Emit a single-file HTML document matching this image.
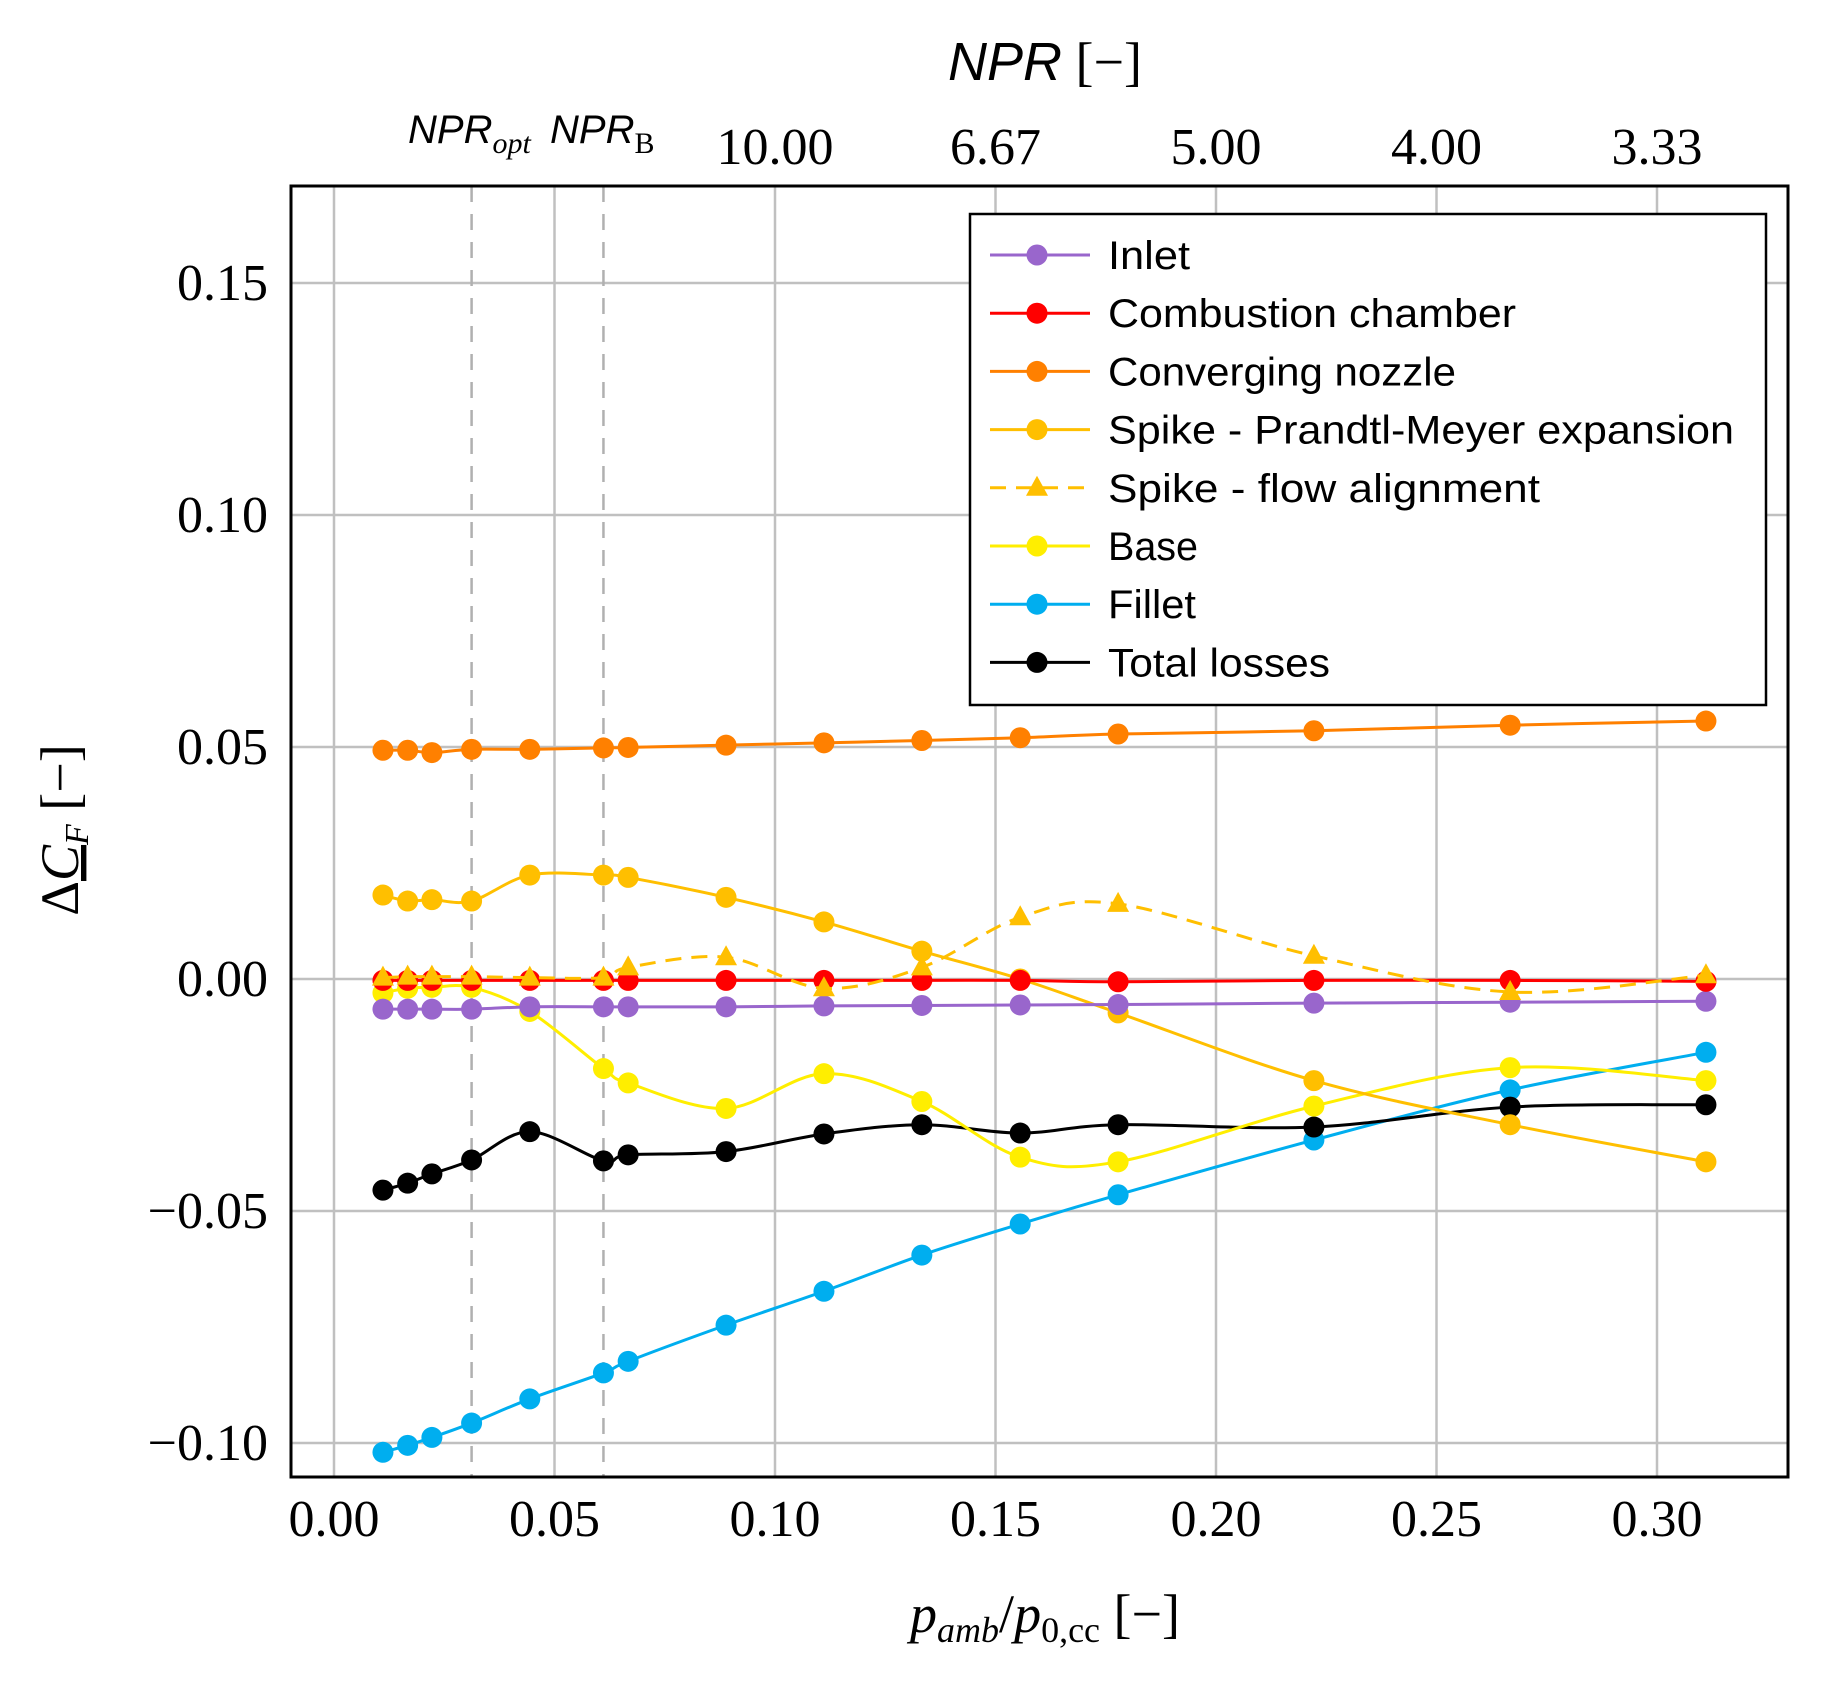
<!DOCTYPE html>
<html><head><meta charset="utf-8"><style>
html,body{margin:0;padding:0;background:#fff}
svg{display:block}
.tk{font-family:"Liberation Serif",serif;font-size:52px;fill:#000}
.lg{font-family:"Liberation Sans",sans-serif;font-size:40px;fill:#000}
</style></head><body>
<svg id="chart" width="1831" height="1682" viewBox="0 0 1831 1682" xmlns="http://www.w3.org/2000/svg">
<g id="grid"></g>
<g id="plot"></g>
<rect x="291" y="186" width="1497" height="1291" fill="none" stroke="#000" stroke-width="3"/>
<g id="ticks"></g>
<text x="408" y="143" font-family="Liberation Sans,sans-serif" font-style="italic" font-size="40">NPR<tspan font-family="Liberation Serif,serif" font-size="30" dy="10">opt</tspan></text>
<text x="550" y="143" font-family="Liberation Sans,sans-serif" font-style="italic" font-size="40">NPR<tspan font-family="Liberation Serif,serif" font-style="normal" font-size="30" dy="10">B</tspan></text>
<text x="1045" y="80" text-anchor="middle" font-size="54"><tspan font-family="Liberation Sans,sans-serif" font-style="italic">NPR</tspan><tspan font-family="Liberation Serif,serif"> [−]</tspan></text>
<text x="1045" y="1632" text-anchor="middle" font-family="Liberation Serif,serif" font-size="54"><tspan font-style="italic">p</tspan><tspan font-style="italic" font-size="36" dy="10">amb</tspan><tspan dy="-10">/</tspan><tspan font-style="italic">p</tspan><tspan font-size="36" dy="10">0,cc</tspan><tspan dy="-10">  [−]</tspan></text>
<text transform="translate(78,830) rotate(-90)" text-anchor="middle" font-family="Liberation Serif,serif" font-size="54">Δ<tspan font-style="italic" text-decoration="underline">C</tspan><tspan font-style="italic" font-size="34" dy="10">F</tspan><tspan dy="-10">  [−]</tspan></text>
<g id="legend"></g>
</svg>
<script>
const xs=[0.0111,0.0167,0.0222,0.0312,0.0444,0.0611,0.0667,0.0889,0.1111,0.1333,0.1556,0.1778,0.2222,0.2667,0.3111];
const inlet=[-0.0065,-0.0065,-0.0065,-0.0065,-0.006,-0.006,-0.006,-0.006,-0.0058,-0.0057,-0.0056,-0.0055,-0.0052,-0.005,-0.0048];
const combustion=[-0.0003,-0.0003,-0.0003,-0.0003,-0.0003,-0.0003,-0.0003,-0.0003,-0.0003,-0.0003,-0.0003,-0.0006,-0.0003,-0.0003,-0.0005];
const converging=[0.0493,0.0493,0.0488,0.0495,0.0495,0.0498,0.0499,0.0504,0.0509,0.0514,0.052,0.0528,0.0535,0.0547,0.0556];
const spikePM=[0.0181,0.0168,0.0171,0.0168,0.0224,0.0224,0.0219,0.0176,0.0123,0.006,0.0,-0.0073,-0.0219,-0.0314,-0.0394];
const spikeFA=[0.0003,0.0005,0.0005,0.0005,0.0003,0.0003,0.0025,0.0047,-0.002,0.0025,0.0133,0.0162,0.005,-0.0028,0.0008];
const base=[-0.003,-0.002,-0.0018,-0.0018,-0.007,-0.0193,-0.0224,-0.0279,-0.0204,-0.0264,-0.0384,-0.0394,-0.0274,-0.0191,-0.0219];
const fillet=[-0.102,-0.1005,-0.0988,-0.0957,-0.0905,-0.0849,-0.0824,-0.0746,-0.0673,-0.0595,-0.0528,-0.0465,-0.0347,-0.0239,-0.0158];
const total=[-0.0455,-0.044,-0.042,-0.039,-0.0329,-0.0392,-0.0379,-0.0372,-0.0334,-0.0314,-0.0332,-0.0314,-0.0319,-0.0276,-0.0271];
const xTicks=[0,0.05,0.10,0.15,0.20,0.25,0.30];
const xTickLabels=["0.00","0.05","0.10","0.15","0.20","0.25","0.30"];
const yTicks=[-0.10,-0.05,0,0.05,0.10,0.15];
const yTickLabels=["−0.10","−0.05","0.00","0.05","0.10","0.15"];
const topTicks=[0.10,0.15,0.20,0.25,0.30];
const topTickLabels=["10.00","6.67","5.00","4.00","3.33"];
const refLines=[0.0312,0.0611];
const legendNames=["Inlet","Combustion chamber","Converging nozzle","Spike - Prandtl-Meyer expansion","Spike - flow alignment","Base","Fillet","Total losses"];

const X=v=>334+v*4410, Y=v=>979-v*4640;
const NS="http://www.w3.org/2000/svg";
function mk(tag,attrs,parent){const e=document.createElementNS(NS,tag);for(const k in attrs)e.setAttribute(k,attrs[k]);parent.appendChild(e);return e;}
const grid=document.getElementById('grid'),plot=document.getElementById('plot'),ticks=document.getElementById('ticks'),legend=document.getElementById('legend');
xTicks.forEach((t,i)=>{
 const l=mk('line',{x1:X(t),x2:X(t),y1:186,y2:1477,stroke:'#c0c0c0','stroke-width':2.5},grid);
 
 
 const tx=mk('text',{x:X(t),y:1536,'text-anchor':'middle',class:'tk'},ticks);tx.textContent=xTickLabels[i];
 
 
});
yTicks.forEach((t,i)=>{
 const l=mk('line',{x1:291,x2:1788,y1:Y(t),y2:Y(t),stroke:'#c0c0c0','stroke-width':2.5},grid);
 
 
 const tx=mk('text',{x:268,y:Y(t)+17,'text-anchor':'end',class:'tk'},ticks);tx.textContent=yTickLabels[i];
 
 
});
topTicks.forEach((t,i)=>{
 const tx=mk('text',{x:X(t),y:164,'text-anchor':'middle',class:'tk'},ticks);tx.textContent=topTickLabels[i];
 
 
});
refLines.forEach(r=>{
 const l=mk('line',{x1:X(r),x2:X(r),y1:186,y2:1477,stroke:'#b0b0b0','stroke-width':2.5,'stroke-dasharray':'16,12'},grid);
 
 
});
function smooth(pts){
 let d=`M${pts[0][0]},${pts[0][1]}`;const t=0.5/3;
 for(let i=0;i<pts.length-1;i++){
  const p0=pts[Math.max(0,i-1)],p1=pts[i],p2=pts[i+1],p3=pts[Math.min(pts.length-1,i+2)];
  const c1=[p1[0]+(p2[0]-p0[0])*t,p1[1]+(p2[1]-p0[1])*t],c2=[p2[0]-(p3[0]-p1[0])*t,p2[1]-(p3[1]-p1[1])*t];
  d+=`C${c1[0]},${c1[1]} ${c2[0]},${c2[1]} ${p2[0]},${p2[1]}`;}
 return d;}
const series=[
 {v:inlet,c:'#9966cc',n:'inlet'},{v:combustion,c:'#ff0000',n:'combustion-chamber'},{v:converging,c:'#ff8000',n:'converging-nozzle'},
 {v:spikePM,c:'#ffbf00',n:'spike-pm'},{v:spikeFA,c:'#ffbf00',n:'spike-flow-alignment',dash:true},{v:base,c:'#ffee00',n:'base'},
 {v:fillet,c:'#00aeef',n:'fillet'},{v:total,c:'#000000',n:'total-losses'}];
const order=[6,7,5,3,0,1,4,2];
order.forEach(si=>{const s=series[si];
 const pts=xs.map((x,i)=>[X(x),Y(s.v[i])]);
 const g=mk('g',{},plot);
 
 
 const p=mk('path',{d:smooth(pts),fill:'none',stroke:s.c,'stroke-width':3},g);
 if(s.dash)p.setAttribute('stroke-dasharray','16,10');
 
 
 pts.forEach(q=>{let m;
  if(s.dash){m=mk('polygon',{points:`${q[0]},${q[1]-12} ${q[0]-11},${q[1]+8} ${q[0]+11},${q[1]+8}`,fill:s.c},g);}
  else m=mk('circle',{cx:q[0],cy:q[1],r:10.5,fill:s.c},g);
  
  
 });
});
mk('rect',{x:970,y:214,width:796,height:491,fill:'#fff',stroke:'#000','stroke-width':2.5},legend);
const lw=[82,408,348,626,432,90,88,222];
legendNames.forEach((nm,i)=>{const s=series[i];const y=255+i*58.2;
 const g=mk('g',{},legend);
 
 
 const l=mk('line',{x1:990,x2:1090,y1:y,y2:y,stroke:s.c,'stroke-width':3},g);
 if(s.dash)l.setAttribute('stroke-dasharray','16,10');
 if(s.dash)mk('polygon',{points:`1037,${y-12} 1026,${y+8} 1048,${y+8}`,fill:s.c},g);
 else mk('circle',{cx:1037,cy:y,r:10.5,fill:s.c},g);
 const t=mk('text',{x:1108,y:y+14,class:'lg',textLength:lw[i],lengthAdjust:'spacingAndGlyphs'},g);t.textContent=nm;
});
</script>
</body></html>
